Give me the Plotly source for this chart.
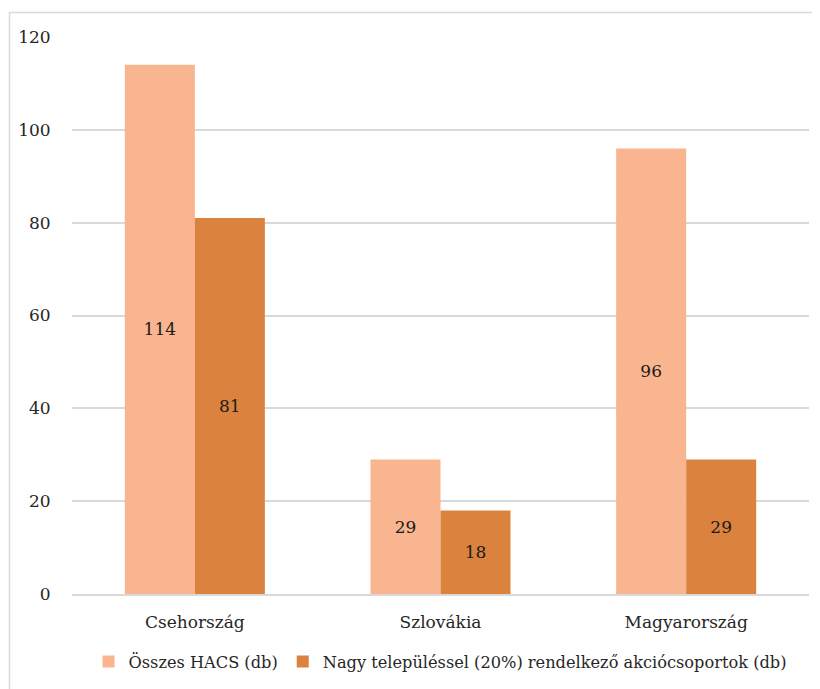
import plotly.graph_objects as go

# Adatok
orszagok = ['Csehország', 'Szlovákia', 'Magyarország']
osszes_hacs = [114, 29, 96]
nagy_telepulessel = [81, 18, 29]

szin_vilagos = '#F8B590'
szin_sotet = '#DB833E'

betu = 'DejaVu Serif'

fig = go.Figure()

fig.add_trace(go.Bar(
    x=orszagok,
    y=osszes_hacs,
    name='Összes HACS (db)',
    marker=dict(color=szin_vilagos, line=dict(width=0)),
    text=osszes_hacs,
    textposition='inside',
    insidetextanchor='middle',
    textfont=dict(family=betu, size=17, color='#1a1a1a'),
))

fig.add_trace(go.Bar(
    x=orszagok,
    y=nagy_telepulessel,
    name='Nagy településsel (20%) rendelkező akciócsoportok (db)',
    marker=dict(color=szin_sotet, line=dict(width=0)),
    text=nagy_telepulessel,
    textposition='inside',
    insidetextanchor='middle',
    textfont=dict(family=betu, size=17, color='#1a1a1a'),
))

# Keret a diagram körül
fig.add_shape(type='rect', xref='paper', yref='paper',
              x0=-0.0848, x1=1.05, y0=-0.3, y1=1.0439,
              line=dict(color='#D9D9D9', width=1.5), layer='below')

fig.update_layout(
    template='none',
    width=812, height=681,
    margin=dict(l=64, r=11, t=29, b=94),
    paper_bgcolor='white',
    plot_bgcolor='white',
    font=dict(family=betu, size=17, color='#262626'),
    barmode='group',
    bargap=0.43,
    bargroupgap=0,
    showlegend=True,
    legend=dict(orientation='h', x=0.5, xanchor='center', y=-0.12, yanchor='middle',
                font=dict(family=betu, size=16.2), itemwidth=30, tracegroupgap=0),
    xaxis=dict(showgrid=False, showline=True, linecolor='#D9D9D9', linewidth=1.5,
               ticks='outside', ticklen=12, tickcolor='rgba(0,0,0,0)',
               tickfont=dict(family=betu, size=17)),
    yaxis=dict(range=[0, 120], dtick=20, showgrid=True, gridcolor='#D9D9D9', gridwidth=1.5,
               zeroline=False, showline=False, ticks='outside', ticklen=17,
               tickcolor='rgba(0,0,0,0)', tickfont=dict(family=betu, size=17)),
)

fig.write_html('out.html')
